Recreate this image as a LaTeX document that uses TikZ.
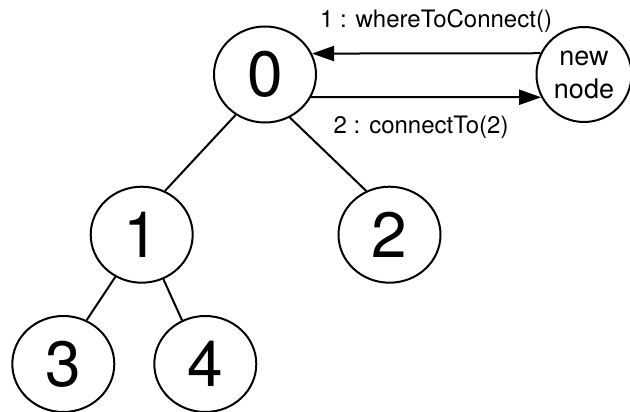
\documentclass[tikz,border=0pt]{standalone}
\usepackage{fontspec}
\setmainfont{TeX Gyre Heros}
\usetikzlibrary{arrows.meta,shapes.geometric}

\tikzset{
  treenode/.style={ draw, ellipse, line width=2pt, inner sep=0pt,
    minimum width=102pt, minimum height=96pt, font=\fontsize{64}{64}\selectfont },
  joinnode/.style={ draw, circle, line width=2pt, inner sep=0pt,
    minimum size=95pt, align=center, font=\fontsize{27}{33}\selectfont },
  treeedge/.style={ line width=2pt },
  msg/.style={ line width=2pt, -{Triangle[length=22pt,width=15pt]} },
  msglabel/.style={ font=\fontsize{24}{28}\selectfont, inner sep=0pt }
}

\begin{document}
\begin{tikzpicture}[ x=1pt, y=-1pt ]
	  \useasboundingbox (0,0) rectangle (630,412);

	  % the tree
	  \node [ treenode ] (n0) at (265,74.5) {0};
	  \node [ treenode ] (n1) at (141.7,234.7) {1};
	  \node [ treenode ] (n2) at (389.5,234.7) {2};
	  \node [ treenode ] (n3) at (63.3,364) {3};
	  \node [ treenode ] (n4) at (205.3,364) {4};

	  \draw [ treeedge ] (n0.234)--(n1.62);
	  \draw [ treeedge ] (n0.300)--(n2.118);
	  \draw [ treeedge ] (n1.238)--(n3.62);
	  \draw [ treeedge ] (n1.296)--(n4.118);

	  % the joining node
	  \node [ joinnode ] (newnode) at (584,74.5) {new\\node};

	  \draw [ msg ] (newnode.154)--(n0.24)
	    node [ msglabel, pos=0.457, anchor=base, yshift=25.7pt ] {1 : whereToConnect()};
	  \draw [ msg ] (n0.334)--(newnode.208)
	    node [ msglabel, pos=0.478, anchor=base, yshift=-36pt ] {2 : connectTo(2)};

	\end{tikzpicture}
\end{document}
